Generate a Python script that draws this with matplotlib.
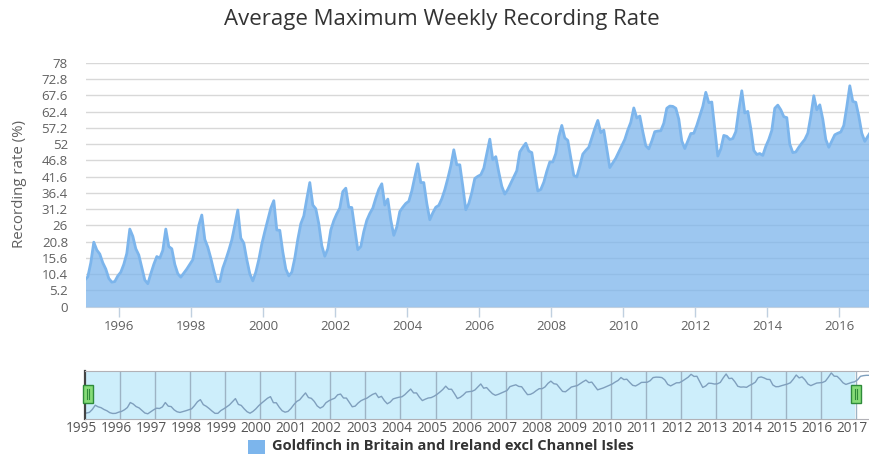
import matplotlib
matplotlib.use("Agg")
import matplotlib.pyplot as plt
import matplotlib.transforms as mtransforms
import numpy as np
from matplotlib.patches import Rectangle

plt.rcParams['font.family'] = ['Open Sans', 'DejaVu Sans']

# monthly average maximum weekly recording rate (%), Jan 1995 onwards
start_year = 1995
recording_rate = [
    8.5, 9.5, 14.0, 20.6, 18.1, 16.8, 14.0, 12.0, 9.0, 7.8, 8.0, 9.8,       # 1995
    11.0, 13.5, 17.0, 24.8, 22.5, 18.5, 16.5, 12.5, 8.5, 7.3, 10.5, 13.5,   # 1996
    16.0, 15.5, 18.0, 24.8, 19.2, 18.5, 13.5, 10.5, 9.4, 10.7, 12.0, 13.5,  # 1997
    15.0, 20.0, 26.0, 29.3, 21.5, 19.0, 15.5, 11.5, 8.0, 8.0, 12.3, 15.0,   # 1998
    18.0, 21.3, 26.0, 30.9, 21.9, 20.3, 15.0, 10.5, 8.2, 11.0, 15.0, 20.0,  # 1999
    24.0, 27.7, 31.5, 33.9, 24.5, 24.4, 17.5, 12.0, 9.8, 11.0, 15.5, 21.5,  # 2000
    26.5, 29.0, 34.5, 39.7, 32.5, 31.3, 26.5, 19.5, 16.1, 18.5, 24.5, 27.5, # 2001
    29.7, 31.5, 36.8, 37.9, 31.8, 31.7, 25.0, 18.2, 19.2, 24.0, 27.6, 29.8, # 2002
    31.5, 34.7, 37.5, 39.3, 32.5, 34.4, 27.7, 22.8, 25.5, 30.4, 31.8, 33.0, # 2003
    33.7, 37.0, 41.5, 45.7, 39.7, 39.7, 33.0, 27.8, 30.0, 31.8, 32.4, 34.5, # 2004
    37.4, 41.0, 45.0, 50.2, 45.4, 45.4, 38.5, 31.0, 33.0, 36.5, 41.0, 41.7, # 2005
    42.2, 44.3, 49.0, 53.6, 47.0, 48.0, 43.0, 38.5, 36.0, 37.5, 39.5, 41.5, # 2006
    43.5, 49.5, 51.0, 52.3, 49.8, 49.3, 43.0, 37.0, 37.5, 39.8, 43.3, 46.3, # 2007
    46.3, 49.0, 54.5, 58.0, 54.0, 53.2, 47.5, 42.0, 41.5, 45.0, 48.8, 50.0, # 2008
    51.0, 54.0, 57.0, 59.6, 55.7, 56.5, 50.5, 44.5, 46.0, 47.5, 49.5, 51.5, # 2009
    53.5, 56.5, 59.0, 63.6, 60.4, 61.0, 56.0, 51.5, 50.5, 53.0, 56.0, 56.2, # 2010
    56.3, 58.7, 63.5, 64.2, 64.1, 63.5, 60.0, 53.0, 50.6, 53.0, 55.4, 55.5, # 2011
    58.0, 61.0, 64.1, 68.6, 65.3, 65.5, 57.0, 48.2, 50.5, 54.8, 54.5, 53.5, # 2012
    53.8, 56.0, 63.0, 69.1, 62.0, 62.5, 57.0, 50.0, 48.7, 49.0, 48.4, 51.3, # 2013
    53.5, 56.4, 63.5, 64.5, 63.0, 60.8, 60.5, 52.0, 49.3, 49.5, 51.0, 52.3, # 2014
    53.5, 55.5, 61.0, 67.5, 63.0, 64.6, 60.0, 53.5, 51.0, 53.0, 55.0, 55.5, # 2015
    55.9, 58.0, 64.0, 70.7, 65.7, 65.4, 61.0, 55.5, 52.9, 54.5, 56.0, 57.0, # 2016
    60.0, 65.5, 66.5, 67.0, 67.0,                                           # 2017
]
series_name = "Goldfinch in Britain and Ireland excl Channel Isles"
y_ticks = [round(5.2 * i, 1) for i in range(16)]
main_years = list(range(1996, 2017, 2))
nav_years = list(range(1995, 2018))

months = start_year + (np.arange(len(recording_rate)) + 0.5) / 12
rate = np.array(recording_rate)

W, H = 869, 455
fig = plt.figure(figsize=(W / 100, H / 100), dpi=100)
fig.patch.set_facecolor('white')

blue = '#7cb5ec'
grey_txt = '#606060'

# main chart
ax = fig.add_axes([86 / W, (H - 306.5) / H, (W - 86) / W, 243.5 / H])
ax.set_xlim(1995 + (86 - 83.3) / 36, 1995 + (869 - 83.3) / 36)
ax.set_ylim(0, 78)
ax.fill_between(months, rate, color=blue, alpha=0.75, lw=0, zorder=2)
ax.plot(months, rate, color=blue, lw=2, zorder=3)
ax.set_yticks(y_ticks)
ax.set_yticklabels(['{:g}'.format(v) for v in y_ticks])
ax.yaxis.grid(True, color='#d8d8d8', lw=1)
ax.set_axisbelow(True)
ax.set_xticks(main_years)
ax.set_xticklabels([str(y) for y in main_years])
for s in ['top', 'right', 'left']:
    ax.spines[s].set_visible(False)
ax.spines['bottom'].set_color('#c0d0e0')
ax.tick_params(axis='y', length=0, pad=13, labelsize=9.5, labelcolor=grey_txt)
ax.tick_params(axis='x', length=7, width=1, color='#c0d0e0', pad=3,
               labelsize=9.5, labelcolor=grey_txt)

fig.text(20 / W, (H - 184) / H, 'Recording rate (%)', rotation=90,
         ha='center', va='center', fontsize=10.8, color=grey_txt)
fig.text(442 / W, (H - 20) / H, 'Average Maximum Weekly Recording Rate',
         ha='center', va='center', fontsize=16, color='#333333')

# navigator
nav = fig.add_axes([85 / W, (H - 418.5) / H, (W - 85) / W, 48 / H])
nav.set_xlim(1995, 1995 + 784 / 35.05)
nav.set_ylim(0, 74.5)
nav.axvspan(1995, 1995 + 770 / 35.05, color='#cdeefb', lw=0, zorder=0)
for y in nav_years[1:]:
    nav.axvline(y, color='#9db3c4', lw=1, zorder=1)
nav.plot(months, rate, color='#7f9fbd', lw=1, zorder=2)
nav.set_xticks(nav_years)
nav.set_xticklabels([str(y) for y in nav_years])
nav.set_yticks([])
nav.tick_params(axis='x', length=0, pad=2, labelsize=9.8, labelcolor='#555555')
shift = mtransforms.ScaledTranslation(-4 / 100, 0, fig.dpi_scale_trans)
for lab in nav.get_xticklabels():
    lab.set_transform(lab.get_transform() + shift)
for s in ['top', 'bottom', 'right']:
    nav.spines[s].set_color('#b2b1b6')
nav.spines['right'].set_visible(False)
nav.spines['left'].set_color('#444444')
nav.spines['left'].set_linewidth(1.6)

# navigator handles
for hx in (82.7, 850.7):
    fig.patches.append(Rectangle((hx / W, (H - 403.3) / H), 10 / W, 18 / H,
                                 transform=fig.transFigure, facecolor='#86dc78',
                                 edgecolor='#2e8b3a', lw=1, zorder=5))
    for dx in (3.8, 6.2):
        fig.lines.append(plt.Line2D([(hx + dx) / W] * 2,
                                    [(H - 399) / H, (H - 389) / H],
                                    transform=fig.transFigure, color='#2e8b3a',
                                    lw=0.8, zorder=6))

# legend
fig.patches.append(Rectangle((247.5 / W, (H - 454) / H), 17 / W, 14 / H,
                             transform=fig.transFigure, facecolor=blue,
                             edgecolor='none'))
fig.text(272 / W, (H - 446.5) / H, series_name, ha='left', va='center',
         fontsize=10.5, fontweight='bold', color='#333333')

fig.savefig('out.png', dpi=100)
